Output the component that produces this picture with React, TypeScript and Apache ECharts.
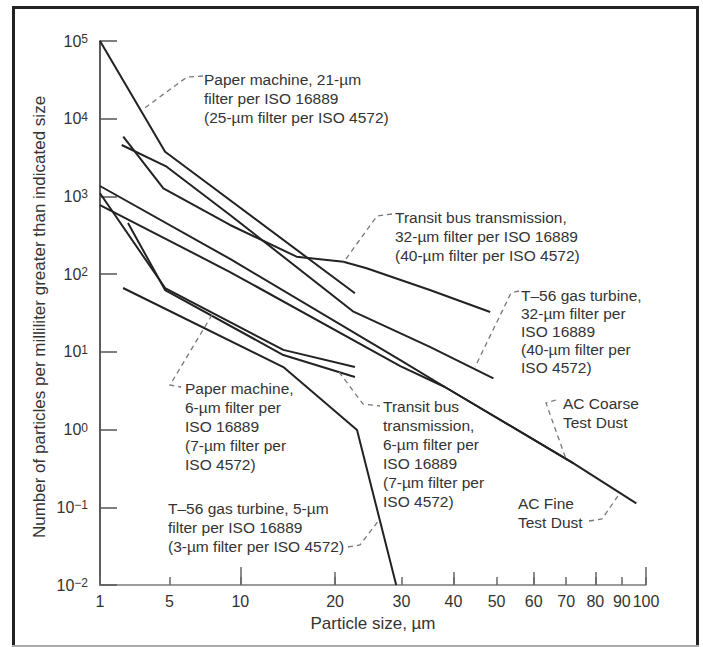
import { useEffect, useRef } from "react";
import * as echarts from "echarts";

// x axis of the original chart is a (log10 x)^p scale (ISO particle-count chart)
const P = 1.96;
const toX = (um: number) => Math.pow(Math.log10(um), P);
const fromX = (v: number) => Math.pow(10, Math.pow(Math.max(v, 0), 1 / P));

const xTickValues = [1, 5, 10, 20, 30, 40, 50, 60, 70, 80, 90, 100];
const xTickMid = [20, 40, 60, 80];
const xTickLong = [10, 100];
const yMin = 0.01;
const yMax = 100000;

// Series (particle size in µm, particles per mL greater than size)
const pm21Size = [1, 4.74, 22.7];
const pm21Count = [100000, 3760, 56.7];

const tb32Size = [2.51, 4.64, 9.16, 15.4, 21.1, 24.4, 35.2, 48.4];
const tb32Count = [5870, 1270, 429, 168, 144.5, 119, 62.5, 32.6];

const t56_32Size = [2.43, 4.83, 9.16, 22.5, 35.2, 49.2];
const t56_32Count = [4590, 2413, 577, 32.9, 11.6, 4.56];

const acFineSize = [1, 9.16, 29.8, 38.2, 72.3, 95.9];
const acFineCount = [1362, 157, 7.85, 3.53, 0.371, 0.112];

const acCoarseSize = [1, 9.16, 29.8, 38.2, 72.3];
const acCoarseCount = [775, 106.5, 6.57, 3.53, 0.371];

const pm6Size = [1, 4.74, 14.0, 22.7];
const pm6Count = [1097, 66.3, 10.6, 6.38];

const tb6Size = [2.75, 4.74, 14.0, 22.7];
const tb6Count = [455, 62.5, 9.1, 4.75];

const t56_5Size = [2.5, 14.0, 23.0, 29.1];
const t56_5Count = [66.3, 6.38, 0.987, 0.01];

const seriesList = [
  { name: "Paper machine, 21-µm", size: pm21Size, count: pm21Count },
  { name: "Transit bus transmission, 32-µm", size: tb32Size, count: tb32Count },
  { name: "T–56 gas turbine, 32-µm", size: t56_32Size, count: t56_32Count },
  { name: "AC Fine Test Dust", size: acFineSize, count: acFineCount },
  { name: "AC Coarse Test Dust", size: acCoarseSize, count: acCoarseCount },
  { name: "Paper machine, 6-µm", size: pm6Size, count: pm6Count },
  { name: "Transit bus transmission, 6-µm", size: tb6Size, count: tb6Count },
  { name: "T–56 gas turbine, 5-µm", size: t56_5Size, count: t56_5Count },
];

const FONT = "'Liberation Sans', Arial, Helvetica, sans-serif";

const annotations = [
  { x: 204, c: 79, lh: 19, lines: ["Paper machine, 21-µm", "filter per ISO 16889", "(25-µm filter per ISO 4572)"] },
  { x: 395, c: 217, lh: 19, lines: ["Transit bus transmission,", "32-µm filter per ISO 16889", "(40-µm filter per ISO 4572)"] },
  { x: 521, c: 296, lh: 17.8, lines: ["T–56 gas turbine,", "32-µm filter per", "ISO 16889", "(40-µm filter per", "ISO 4572)"] },
  { x: 563, c: 403, lh: 19, lines: ["AC Coarse", "Test Dust"] },
  { x: 518, c: 503, lh: 19, lines: ["AC Fine", "Test Dust"] },
  { x: 185, c: 388, lh: 19, lines: ["Paper machine,", "6-µm filter per", "ISO 16889", "(7-µm filter per", "ISO 4572)"] },
  { x: 383, c: 407, lh: 18.9, lines: ["Transit bus", "transmission,", "6-µm filter per", "ISO 16889", "(7-µm filter per", "ISO 4572)"] },
  { x: 168, c: 509, lh: 18.8, lines: ["T–56 gas turbine, 5-µm", "filter per ISO 16889", "(3-µm filter per ISO 4572)"] },
];

const leaders = [
  [[203, 76], [187, 77], [142, 110]],
  [[392, 214], [377, 216], [343, 263]],
  [[519, 291], [511, 293], [475, 367]],
  [[556, 400], [546, 403], [566, 459]],
  [[589, 521], [602, 519], [620, 493]],
  [[212, 315], [170, 385], [181, 387]],
  [[339, 372], [363, 404], [380, 406]],
  [[348, 547], [360, 545], [379, 520]],
];

export default function App() {
  const ref = useRef<HTMLDivElement>(null);

  useEffect(() => {
    if (!ref.current) return;
    const chart = echarts.init(ref.current, undefined, { renderer: "svg" });

    const tickAxis = (vals: number[], len: number, main: boolean) => ({
      type: "value",
      gridIndex: 0,
      position: "bottom",
      min: 0,
      max: toX(100),
      splitLine: { show: false },
      axisLine: { show: main, onZero: false, lineStyle: { color: "#7a7a7a", width: 1.5 } },
      axisTick: {
        show: true,
        inside: true,
        length: len,
        customValues: vals.map(toX),
        lineStyle: { color: "#666", width: 1.5 },
      },
      axisLabel: main
        ? {
            show: true,
            customValues: vals.map(toX),
            formatter: (v: number) => String(Math.round(fromX(v))),
            fontSize: 16,
            fontFamily: FONT,
            color: "#333",
            margin: 8,
          }
        : { show: false },
    });

    const graphic: any[] = [];
    // frame
    graphic.push({ type: "line", shape: { x1: 13.5, y1: 6, x2: 13.5, y2: 646 }, style: { stroke: "#222", lineWidth: 3 } });
    graphic.push({ type: "line", shape: { x1: 12, y1: 7.5, x2: 699, y2: 7.5 }, style: { stroke: "#222", lineWidth: 3 } });
    graphic.push({ type: "line", shape: { x1: 697.5, y1: 6, x2: 697.5, y2: 646 }, style: { stroke: "#222", lineWidth: 3 } });
    graphic.push({ type: "line", shape: { x1: 12, y1: 646, x2: 699, y2: 646 }, style: { stroke: "#aaa", lineWidth: 2 } });

    leaders.forEach((pts) => {
      graphic.push({
        type: "polyline",
        shape: { points: pts },
        style: { stroke: "#777", lineWidth: 1.3, lineDash: [5, 4], fill: null },
        z: 50,
      });
    });
    annotations.forEach((a) => {
      graphic.push({
        type: "text",
        x: a.x,
        y: a.c - a.lh / 2,
        z: 60,
        style: {
          text: a.lines.join("\n"),
          fontSize: 15.5,
          fontFamily: FONT,
          fill: "#333",
          lineHeight: a.lh,
          align: "left",
          verticalAlign: "top",
        },
      });
    });
    // axis titles
    graphic.push({
      type: "text",
      x: 373,
      y: 623,
      z: 60,
      style: { text: "Particle size, µm", fontSize: 17, fontFamily: FONT, fill: "#333", align: "center", verticalAlign: "middle" },
    });
    graphic.push({
      type: "text",
      x: 39,
      y: 317,
      rotation: Math.PI / 2,
      z: 60,
      style: {
        text: "Number of particles per milliliter greater than indicated size",
        fontSize: 17,
        fontFamily: FONT,
        fill: "#333",
        align: "center",
        verticalAlign: "middle",
      },
    });

    chart.setOption({
      animation: false,
      backgroundColor: "#fff",
      grid: { left: 100, top: 41, width: 546, height: 544, containLabel: false },
      xAxis: [tickAxis(xTickValues, 8, true), tickAxis(xTickMid, 13, false), tickAxis(xTickLong, 18, false)],
      yAxis: {
        type: "log",
        logBase: 10,
        min: yMin,
        max: yMax,
        splitLine: { show: false },
        axisLine: { show: true, onZero: false, lineStyle: { color: "#333", width: 1.6 } },
        axisTick: { show: true, inside: true, length: 17, lineStyle: { color: "#555", width: 1.5 } },
        minorTick: { show: false },
        axisLabel: {
          margin: 12,
          formatter: (v: number) => {
            const e = Math.round(Math.log10(v));
            const s = e < 0 ? "−" + Math.abs(e) : String(e);
            return "{b|10}{s|" + s + "}";
          },
          rich: {
            b: { fontSize: 16, fontFamily: FONT, color: "#333", lineHeight: 16, verticalAlign: "bottom", padding: [4, 0, 0, 0] },
            s: { fontSize: 12, fontFamily: FONT, color: "#333", lineHeight: 12, verticalAlign: "top" },
          },
        },
      },
      series: seriesList.map((s) => ({
        name: s.name,
        type: "line",
        xAxisIndex: 0,
        yAxisIndex: 0,
        showSymbol: false,
        symbol: "none",
        silent: true,
        lineStyle: { color: "#222", width: 2 },
        data: s.size.map((x, i) => [toX(x), s.count[i]]),
      })),
      graphic,
    });

    return () => chart.dispose();
  }, []);

  return <div ref={ref} style={{ position: "absolute", left: 0, top: 0, width: 703, height: 647 }} />;
}
